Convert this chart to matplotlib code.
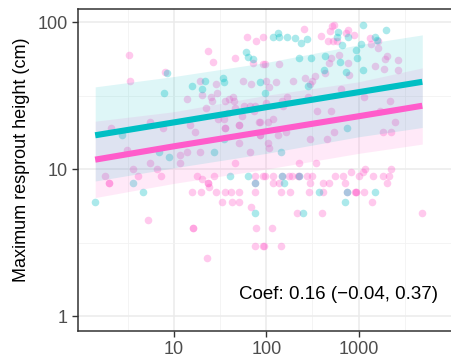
import numpy as np
import matplotlib.pyplot as plt

plt.rcParams['font.family'] = ['Liberation Sans', 'DejaVu Sans']

cyan_col = '#00BFC4'
pink_col = '#FF5CCB'

# cyan group: basal area (x) vs maximum resprout height (y, cm)
cyan_x = [8.5, 7.7, 15.7, 21.8, 20.3, 34, 34.5, 61, 64, 72, 85, 96, 118, 133, 139, 169,
          203, 238, 274, 228, 303, 436, 629, 422, 730, 285, 603, 588, 773, 666, 1116,
          1966, 1517, 1582, 1062, 944, 961, 1116, 755, 35, 2.7, 6.8, 8.8, 3.6, 4.6, 1.4,
          27, 40.5, 63, 76, 75, 143, 147, 228, 156, 375, 743, 713, 252, 1517]
cyan_y = [45, 33, 37, 40, 35, 42, 39, 63, 58, 56, 39, 33, 79, 85, 79, 79,
          78, 72, 77, 57, 57, 59, 54, 47, 46, 37, 86, 79, 79, 70, 95,
          89, 79, 76, 71, 65, 57, 47, 19, 16, 17, 13, 12, 8, 7, 6,
          13, 9, 9, 8, 5, 13, 9, 9, 8, 7, 7, 6, 5, 7]

# pink group
pink_x = [3.23, 3.36, 8.05, 2.08, 5.5, 7.66, 13.9, 23.5, 26.5, 45.5, 62, 78, 91, 72, 92,
          19.3, 20.3, 28.7, 55.5, 69, 25, 25.8, 29.2, 35.4, 39, 44, 44.3, 22, 45.5, 58,
          66, 76, 38.5, 55, 74, 30, 35, 14.8, 35.4, 51, 83,
          258, 391, 490, 511, 541, 470, 524, 579, 730, 773, 502, 614, 478, 773, 97, 138,
          436, 781, 263, 193, 126, 337, 315, 297, 99, 108, 645, 169, 147, 285, 99, 151,
          352, 502, 119, 85.5, 105,
          885, 1340, 1374, 1622, 1611, 2031, 1947, 2673, 1494, 1871, 2652, 1153, 2207,
          1718, 2462, 1837, 2263,
          3.07, 1.8, 2.0, 2.0, 3.63, 4.05, 5.2, 5.5, 6.5, 7.23,
          17, 36, 50, 50, 11.5, 11.7, 13.9, 19.3, 45.5, 66, 85, 17.9, 20.3, 23.4, 23.4,
          24, 27, 76, 92, 15.7, 19.8, 28.7, 36, 41, 50, 76, 33, 42, 50, 68, 16, 16, 78,
          76, 92, 23, 76,
          541, 297, 451, 105, 108, 135, 85.5, 226, 345, 827,
          97, 117, 147, 177, 191, 222, 228, 274, 310, 555, 673,
          117, 138, 297, 415, 478, 713,
          143, 181, 290, 415, 743, 914,
          213, 398, 116, 94, 143,
          1182, 1107, 1019, 1433, 1837, 2152, 2245, 2031, 938, 938, 1136, 1399, 4864, 163]
pink_y = [60, 40, 46, 19, 21, 19, 30, 64, 54, 57, 79, 74, 79, 53, 52,
          40, 32, 38, 40, 38, 31, 29, 33, 29, 30, 31, 29, 26, 26, 27,
          27, 27, 24, 23, 25, 22, 22, 20, 19, 20, 21,
          90, 80, 87, 94, 96, 75, 75, 75, 85, 88, 57, 60, 53, 53, 52, 52,
          45, 44, 42, 40, 39, 43, 40, 38, 40, 36, 35, 31, 29, 31, 28, 27,
          25, 25, 22, 21, 21,
          82, 78, 71, 74, 67, 59, 56, 55, 50, 48, 47, 31, 29,
          25, 21, 18, 18,
          13.5, 9, 8, 8, 10, 9, 4.5, 11, 10, 9,
          18, 19, 20, 15, 12.5, 11, 13, 13, 11, 13, 17, 9, 8.5, 8, 8,
          7.5, 9, 9, 9, 7, 7, 7, 7, 7, 7, 7, 6, 6, 6, 5.5, 4, 4, 4,
          3, 3, 2.5, 8,
          18, 16, 16, 15, 14, 17, 17, 11, 11, 9.5,
          9, 9, 9, 9, 9, 9, 9, 9, 9, 9, 9,
          8, 8, 8, 8, 8, 8,
          7, 7, 7, 7, 7, 7,
          5, 5, 4, 3, 3,
          10, 9.5, 9, 9, 9, 9, 10, 8, 7, 7, 7, 6, 5, 18]

# fitted lines and credible bands
fit_x = [1.4, 10, 100, 1000, 4900]
cyan_fit = [17.0, 20.8, 26.4, 33.4, 39.3]
cyan_lo = [8.3, 10.2, 12.8, 16.6, 19.2]
cyan_hi = [36.3, 42.7, 53.2, 70.2, 82.0]
pink_fit = [11.6, 14.3, 18.1, 22.9, 27.0]
pink_lo = [6.4, 8.0, 10.0, 12.8, 14.8]
pink_hi = [21.2, 24.6, 31.8, 39.3, 48.9]

coef_label = 'Coef: 0.16 (\u22120.04, 0.37)'

fig = plt.figure(figsize=(4.51, 3.58), dpi=100)
ax = fig.add_axes([77.5 / 451, 27 / 358, 375.7 / 451, 322 / 358])

ax.scatter(pink_x, pink_y, s=30, color=pink_col, alpha=0.33, linewidths=0, zorder=2)
ax.scatter(cyan_x, cyan_y, s=30, color=cyan_col, alpha=0.33, linewidths=0, zorder=2)

ax.fill_between(fit_x, pink_lo, pink_hi, color=pink_col, alpha=0.13, linewidth=0, zorder=3)
ax.fill_between(fit_x, cyan_lo, cyan_hi, color=cyan_col, alpha=0.13, linewidth=0, zorder=3)
ax.plot(fit_x, cyan_fit, color=cyan_col, lw=4.4, solid_capstyle='butt', zorder=4)
ax.plot(fit_x, pink_fit, color=pink_col, lw=4.4, solid_capstyle='butt', zorder=4)

ax.set_xscale('log')
ax.set_yscale('log')
ax.set_xlim(10 ** -0.0455, 10 ** 4.025)
ax.set_ylim(10 ** -0.102, 10 ** 2.090)

ax.set_xticks([10, 100, 1000])
ax.set_xticklabels(['10', '100', '1000'])
ax.set_yticks([1, 10, 100])
ax.set_yticklabels(['1', '10', '100'])
ax.set_xticks([10 ** 0.5, 10 ** 1.5, 10 ** 2.5, 10 ** 3.5], minor=True)
ax.set_yticks([10 ** 0.5, 10 ** 1.5], minor=True)
ax.tick_params(which='minor', length=0, labelleft=False, labelbottom=False)
ax.tick_params(which='major', length=4, width=1, color='#333333',
               labelsize=13, labelcolor='#4D4D4D', pad=3)
ax.grid(which='major', color='#EBEBEB', lw=1.1, zorder=0)
ax.grid(which='minor', color='#F2F2F2', lw=0.6, zorder=0)
ax.set_axisbelow(True)
for sp in ax.spines.values():
    sp.set_color('#333333')
    sp.set_linewidth(1.1)
ax.spines['right'].set_visible(False)

fig.text(21.5 / 451, 1 - 159.5 / 358, 'Maximum resprout height (cm)', rotation=90,
         ha='center', va='center', fontsize=13, color='black')
ax.text(0.96, 0.112, coef_label, transform=ax.transAxes, ha='right', va='center',
        fontsize=13.5, color='black')

fig.savefig('out.png', dpi=100)
